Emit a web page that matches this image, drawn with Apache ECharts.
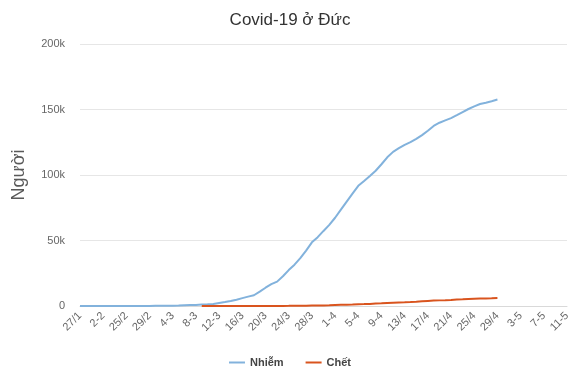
<!DOCTYPE html>
<html>
<head>
<meta charset="utf-8">
<script src="https://cdn.jsdelivr.net/npm/echarts@6/dist/echarts.min.js"></script>
<style>html,body{margin:0;padding:0;background:#fff}#c{width:580px;height:387px}</style>
</head>
<body>
<div id="c"></div>
<script>
var categories = ['27/1','28/1','30/1','1/2','2-2','4/2','7/2','11/2','25/2','26/2','27/2','28/2','29/2',
'1/3','2/3','3/3','4-3','5/3','6/3','7/3','8-3','9/3','10/3','11/3','12-3','13/3','14/3','15/3','16/3',
'17/3','18/3','19/3','20/3','21/3','22/3','23/3','24/3','25/3','26/3','27/3','28/3','29/3','30/3','31/3',
'1-4','2/4','3/4','4/4','5-4','6/4','7/4','8/4','9-4','10/4','11/4','12/4','13/4','14/4','15/4','16/4',
'17/4','18/4','19/4','20/4','21/4','22/4','23/4','24/4','25/4','26/4','27/4','28/4','29/4',
'30/4','1/5','2/5','3-5','4/5','5/5','6/5','7-5','8/5','9/5','10/5','11-5'];

var infected = [1,4,5,8,10,12,13,16,16,18,21,26,53,
117,150,188,240,349,534,684,847,1112,1296,1567,2369,3062,3795,4838,6012,
7156,8198,10999,13957,16662,18610,22672,27436,31554,36508,42288,48582,52547,57298,61913,
67366,73522,79696,85778,91714,95391,99225,103228,108202,113525,117658,120479,123016,125098,127584,130450,
133830,137439,139897,141672,143457,145694,148046,150383,152438,154175,155193,156337,157641];

var deaths = [null,null,null,null,null,null,null,null,null,null,null,null,null,
null,null,null,null,null,null,null,null,2,2,3,5,5,8,12,13,
12,12,20,31,31,47,86,114,149,198,253,325,389,455,583,
732,872,1017,1158,1342,1434,1607,1861,2107,2373,2544,2673,2799,2969,3254,3569,
3868,4110,4294,4404,4598,4879,5094,5321,5500,5640,5750,5913,6115];

var chart = echarts.init(document.getElementById('c'), null, {renderer:'canvas'});
chart.setOption({
  animation: false,
  backgroundColor: '#ffffff',
  title: {
    text: 'Covid-19 ở Đức', left: 'center', top: 7,
    textStyle: {fontFamily: 'Liberation Sans, Arial, sans-serif', fontSize: 17, fontWeight: 'normal', color: '#333'}
  },
  legend: {
    bottom: 14, left: 'center', itemGap: 22, itemWidth: 16, itemHeight: 2, icon: 'rect',
    textStyle: {fontFamily: 'Liberation Sans, Arial, sans-serif', fontSize: 11, fontWeight: 'bold', color: '#444'},
    data: ['Nhiễm', 'Chết']
  },
  grid: {left: 80, right: 13, top: 44, bottom: 81},
  xAxis: {
    type: 'category', boundaryGap: false, data: categories,
    axisLine: {lineStyle: {color: '#d9d9d9'}},
    axisTick: {show: false},
    axisLabel: {
      interval: function (i) { return i % 4 === 0; },
      rotate: 45, color: '#666', fontSize: 11, margin: 8,
      fontFamily: 'Liberation Sans, Arial, sans-serif'
    }
  },
  yAxis: {
    type: 'value', min: 0, max: 200000, interval: 50000,
    name: 'Người', nameLocation: 'middle', nameGap: 52,
    nameTextStyle: {fontFamily: 'Liberation Sans, Arial, sans-serif', fontSize: 18, color: '#595959'},
    axisLine: {show: false}, axisTick: {show: false},
    axisLabel: {
      color: '#666', fontSize: 11, margin: 15, fontFamily: 'Liberation Sans, Arial, sans-serif',
      formatter: function (v) { return v === 0 ? '0' : (v / 1000) + 'k'; }
    },
    splitLine: {lineStyle: {color: '#e6e6e6'}}
  },
  series: [
    {name: 'Nhiễm', type: 'line', data: infected, showSymbol: false, symbol: 'none',
     lineStyle: {color: '#82b2dc', width: 2}, itemStyle: {color: '#82b2dc'}},
    {name: 'Chết', type: 'line', data: deaths, showSymbol: false, symbol: 'none',
     lineStyle: {color: '#d9541e', width: 2}, itemStyle: {color: '#d9541e'}}
  ]
});
</script>
</body>
</html>
